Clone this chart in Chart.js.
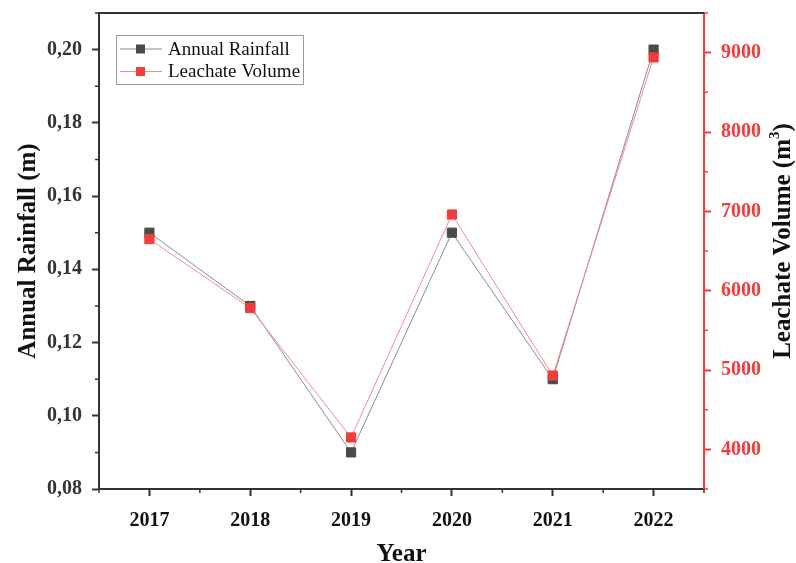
<!DOCTYPE html>
<html>
<head>
<meta charset="utf-8">
<script src="https://cdn.jsdelivr.net/npm/chart.js@4.4.1/dist/chart.umd.min.js"></script>
<style>
  body { margin: 0; background: #fff; }
  canvas { display: block; }
</style>
</head>
<body>
<canvas id="myChart" width="796" height="563"></canvas>
<script>
const years = [2017, 2018, 2019, 2020, 2021, 2022];
const rainfall = [0.15, 0.13, 0.09, 0.15, 0.11, 0.20];
const leachate = [6650, 5780, 4150, 6960, 4930, 8940];
const rainTicks = [0.08, 0.10, 0.12, 0.14, 0.16, 0.18, 0.20];
const leachTicks = [4000, 5000, 6000, 7000, 8000, 9000];
const yearTicks = [2017, 2018, 2019, 2020, 2021, 2022];

const FONT = "'Liberation Serif', 'Times New Roman', serif";
const DARK = '#333333';
const RED = '#f23c3c';

// minor ticks halfway between the major ones, plus the axis ends
const minorTicks = (scale, ticks) => {
    const step = ticks[1] - ticks[0];
    const out = [ticks[0] - step / 2];
    for (const t of ticks) out.push(t + step / 2);
    return out.filter(v => v >= scale.min - 1e-9 && v <= scale.max + 1e-9);
};

const decor = {
    id: 'decor',
    afterDraw(chart) {
        const ctx = chart.ctx;
        const a = chart.chartArea;
        const sx = chart.scales.x, sl = chart.scales.yRain, sr = chart.scales.yLeach;
        ctx.save();
        // top frame line
        ctx.strokeStyle = DARK;
        ctx.lineWidth = 2;
        ctx.beginPath();
        ctx.moveTo(a.left - 1, a.top);
        ctx.lineTo(a.right, a.top);
        ctx.stroke();

        // minor ticks
        ctx.lineWidth = 1.5;
        ctx.beginPath();
        for (const v of minorTicks(sx, yearTicks)) {
            const px = sx.getPixelForValue(v);
            ctx.moveTo(px, a.bottom);
            ctx.lineTo(px, a.bottom + 4);
        }
        for (const v of minorTicks(sl, rainTicks)) {
            const py = sl.getPixelForValue(v);
            ctx.moveTo(a.left, py);
            ctx.lineTo(a.left - 4, py);
        }
        ctx.stroke();
        ctx.strokeStyle = RED;
        ctx.beginPath();
        for (const v of minorTicks(sr, leachTicks)) {
            const py = sr.getPixelForValue(v);
            ctx.moveTo(a.right, py);
            ctx.lineTo(a.right + 4, py);
        }
        ctx.stroke();

        // right axis title, reading bottom to top
        const t1 = 'Leachate Volume (m', t2 = '3', t3 = ')';
        const big = 'bold 25px ' + FONT, small = 'bold 15px ' + FONT;
        ctx.font = big;
        const w1 = ctx.measureText(t1).width, w3 = ctx.measureText(t3).width;
        ctx.font = small;
        const w2 = ctx.measureText(t2).width;
        const total = w1 + w2 + w3;
        ctx.translate(784, (a.top + a.bottom) / 2 - 10);
        ctx.rotate(-Math.PI / 2);
        ctx.fillStyle = '#111';
        ctx.textBaseline = 'middle';
        ctx.textAlign = 'left';
        let x0 = -total / 2;
        ctx.font = big;
        ctx.fillText(t1, x0, 0);
        ctx.font = small;
        ctx.fillText(t2, x0 + w1, -9);
        ctx.font = big;
        ctx.fillText(t3, x0 + w1 + w2, 0);
        ctx.restore();

        // legend box inside the plot
        ctx.save();
        const bx = a.left + 17, by = a.top + 22, bw = 187, bh = 49;
        ctx.strokeStyle = '#999';
        ctx.lineWidth = 1;
        ctx.strokeRect(bx + 0.5, by + 0.5, bw, bh);
        chart.data.datasets.forEach((ds, i) => {
            const cy = by + 14 + i * 22.5;
            ctx.strokeStyle = ds.borderColor;
            ctx.lineWidth = 1;
            ctx.beginPath();
            ctx.moveTo(bx + 4, cy);
            ctx.lineTo(bx + 46, cy);
            ctx.stroke();
            ctx.fillStyle = ds.pointBackgroundColor;
            ctx.fillRect(bx + 20, cy - 4.5, 9, 9);
            ctx.fillStyle = '#111';
            ctx.font = '19px ' + FONT;
            ctx.textBaseline = 'middle';
            ctx.fillText(ds.label, bx + 52, cy + 1);
        });
        ctx.restore();
    }
};

const fitY = (w) => (s) => { s.width = w; s.paddingTop = 0; s.paddingBottom = 0; };

const ctx = document.getElementById('myChart').getContext('2d');
const myChart = new Chart(ctx, {
    type: 'line',
    data: {
        datasets: [{
            label: 'Annual Rainfall',
            data: years.map((y, i) => ({ x: y, y: rainfall[i] })),
            yAxisID: 'yRain',
            borderColor: '#8c8c8c',
            borderWidth: 1,
            pointStyle: 'rect',
            pointRadius: 6.5,
            pointBackgroundColor: '#4a4a4a',
            pointBorderColor: '#4a4a4a',
            pointBorderWidth: 1,
            tension: 0,
            order: 2
        }, {
            label: 'Leachate Volume',
            data: years.map((y, i) => ({ x: y, y: leachate[i] })),
            yAxisID: 'yLeach',
            borderColor: '#f58a8a',
            borderWidth: 1,
            pointStyle: 'rect',
            pointRadius: 6.5,
            pointBackgroundColor: RED,
            pointBorderColor: RED,
            pointBorderWidth: 1,
            tension: 0,
            order: 1
        }]
    },
    options: {
        responsive: false,
        animation: false,
        devicePixelRatio: 1,
        layout: { padding: { top: 13, left: 0, right: 0, bottom: 0 } },
        plugins: { legend: { display: false }, tooltip: { enabled: false } },
        scales: {
            x: {
                type: 'linear',
                min: 2016.5,
                max: 2022.5,
                afterBuildTicks: (s) => { s.ticks = yearTicks.map(v => ({ value: v })); },
                afterFit: (s) => { s.height = 74; s.paddingLeft = 0; s.paddingRight = 0; },
                grid: { drawOnChartArea: false, tickLength: 7, color: DARK, tickWidth: 2 },
                border: { color: DARK, width: 2 },
                ticks: {
                    padding: 13,
                    color: '#111',
                    font: { family: FONT, size: 20, weight: 'bold' },
                    callback: (v) => String(v)
                },
                title: {
                    display: true,
                    text: 'Year',
                    color: '#111',
                    padding: { top: 0, bottom: -4 },
                    font: { family: FONT, size: 25, weight: 'bold', lineHeight: 1 }
                }
            },
            yRain: {
                type: 'linear',
                position: 'left',
                min: 0.08,
                max: 0.21,
                afterBuildTicks: (s) => { s.ticks = rainTicks.map(v => ({ value: v })); },
                afterFit: fitY(99),
                grid: { drawOnChartArea: false, tickLength: 7, color: DARK, tickWidth: 2 },
                border: { color: DARK, width: 2 },
                ticks: {
                    padding: 10,
                    color: '#333',
                    font: { family: FONT, size: 20, weight: 'bold' },
                    callback: (v) => v.toFixed(2).replace('.', ',')
                },
                title: {
                    display: true,
                    text: 'Annual Rainfall (m)',
                    color: '#111',
                    padding: { top: 16, bottom: 0 },
                    font: { family: FONT, size: 25, weight: 'bold', lineHeight: 1 }
                }
            },
            yLeach: {
                type: 'linear',
                position: 'right',
                min: 3500,
                max: 9500,
                afterBuildTicks: (s) => { s.ticks = leachTicks.map(v => ({ value: v })); },
                afterFit: fitY(92),
                grid: { drawOnChartArea: false, tickLength: 7, color: RED, tickWidth: 2 },
                border: { color: RED, width: 2 },
                ticks: {
                    padding: 10,
                    color: RED,
                    font: { family: FONT, size: 20, weight: 'bold' },
                    callback: (v) => String(v)
                }
            }
        }
    },
    plugins: [decor]
});
</script>
</body>
</html>
